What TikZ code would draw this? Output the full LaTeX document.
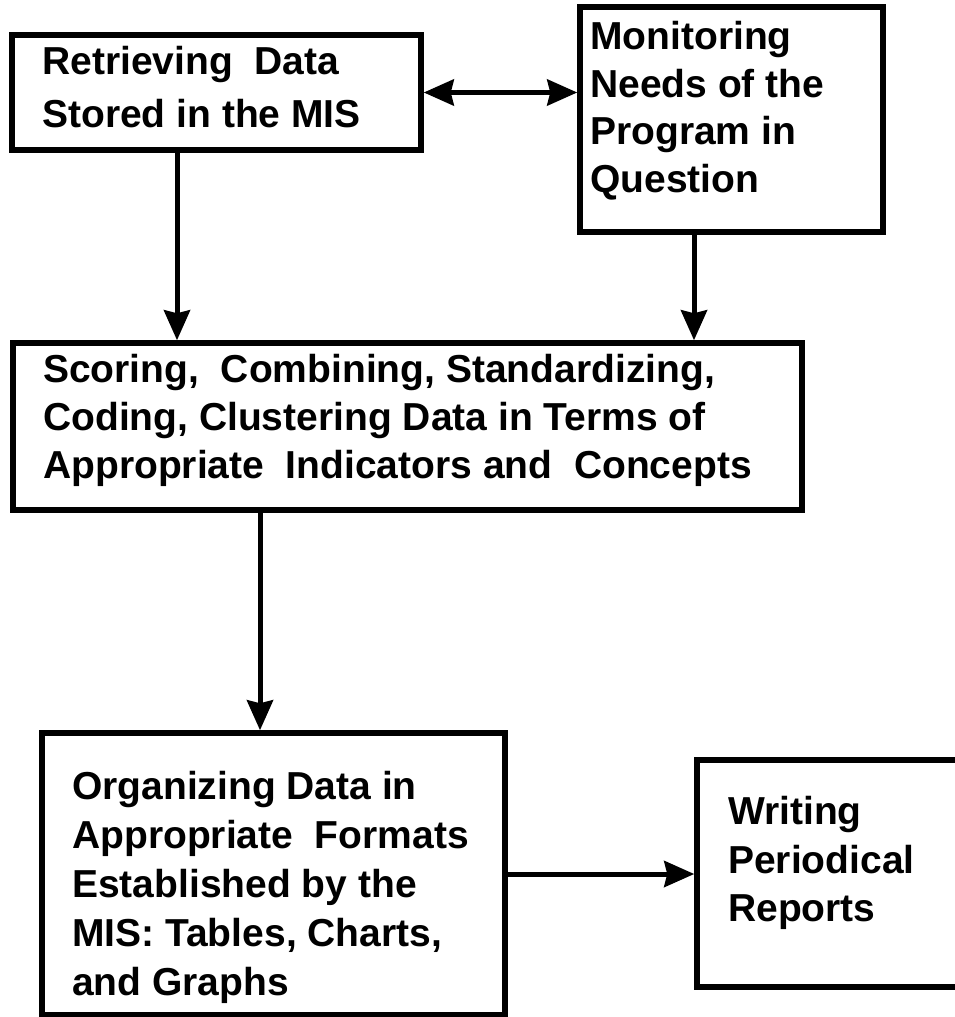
\documentclass[tikz,border=0pt]{standalone}
\usepackage{fontspec}
\setmainfont{Liberation Sans}
\usetikzlibrary{arrows.meta}
\begin{document}
\begin{tikzpicture}[x=1pt,y=-1pt,
  box/.style={draw=black, line width=5.5pt, rectangle, inner sep=0pt},
  txt/.style={anchor=north west, inner sep=0pt, align=left,
    font=\bfseries\fontsize{39}{49}\selectfont},
  tip/.style={Stealth[length=30pt,width=26pt,inset=3pt]},
  arr/.style={line width=5pt, -{Stealth[length=30pt,width=26pt,inset=3pt]}},
  darr/.style={line width=5pt, {Stealth[length=30pt,width=26pt,inset=3pt]}-{Stealth[length=30pt,width=26pt,inset=3pt]}}]
\useasboundingbox (0,0) rectangle (955,1017);
\clip (0,0) rectangle (955,1017);
\fill[white] (0,0) rectangle (955,1017);

% boxes
\node[box, minimum width=409pt, minimum height=115pt] (ret) at (216.5,92.5) {};
\node[box, minimum width=303pt, minimum height=225pt] (mon) at (731.5,119.5) {};
\node[box, minimum width=789pt, minimum height=167pt] (score) at (407.5,426.5) {};
\node[box, minimum width=463pt, minimum height=282pt] (org) at (273.5,874) {};
\node[box, minimum width=290pt, minimum height=227pt] (write) at (842,873.5) {};

% labels
\node[txt, font=\bfseries\fontsize{39}{53}\selectfont] (tret) at (42,46.5)
  {Retrieving\ \ Data\\Stored\ in\ the\ MIS};
\node[txt, font=\bfseries\fontsize{39}{47.5}\selectfont] (tmon) at (590,21.5)
  {Monitoring\\Needs\ of\ the\\Program\ in\\Question};
\node[txt, font=\bfseries\fontsize{39}{48}\selectfont] (tscore) at (43,354.5)
  {Scoring,\ \ Combining,\ Standardizing,\\Coding,\ Clustering\ Data\ in\ Terms\ of\\Appropriate\ \ Indicators\ and\ \ Concepts};
\node[txt, font=\bfseries\fontsize{39}{49}\selectfont] (torg) at (72,771.5)
  {Organizing\ Data\ in\\Appropriate\ \ Formats\\Established\ by\ the\\MIS:\ Tables,\ Charts,\\and\ Graphs};
\node[txt, font=\bfseries\fontsize{39}{48.5}\selectfont] (twrite) at (728,796.5)
  {Writing\\Periodical\\Reports};

% connectors
\coordinate (xa) at (177,0);
\coordinate (xb) at (694,0);
\coordinate (xc) at (260,0);
\draw[darr] (ret.east) -- (ret.east -| mon.west);
\draw[arr] (ret.south -| xa) -- (score.north -| xa);
\draw[arr] (mon.south -| xb) -- (score.north -| xb);
\draw[arr] (score.south -| xc) -- (org.north -| xc);
\draw[arr] (org.east) -- (org.east -| write.west);
\end{tikzpicture}
\end{document}
